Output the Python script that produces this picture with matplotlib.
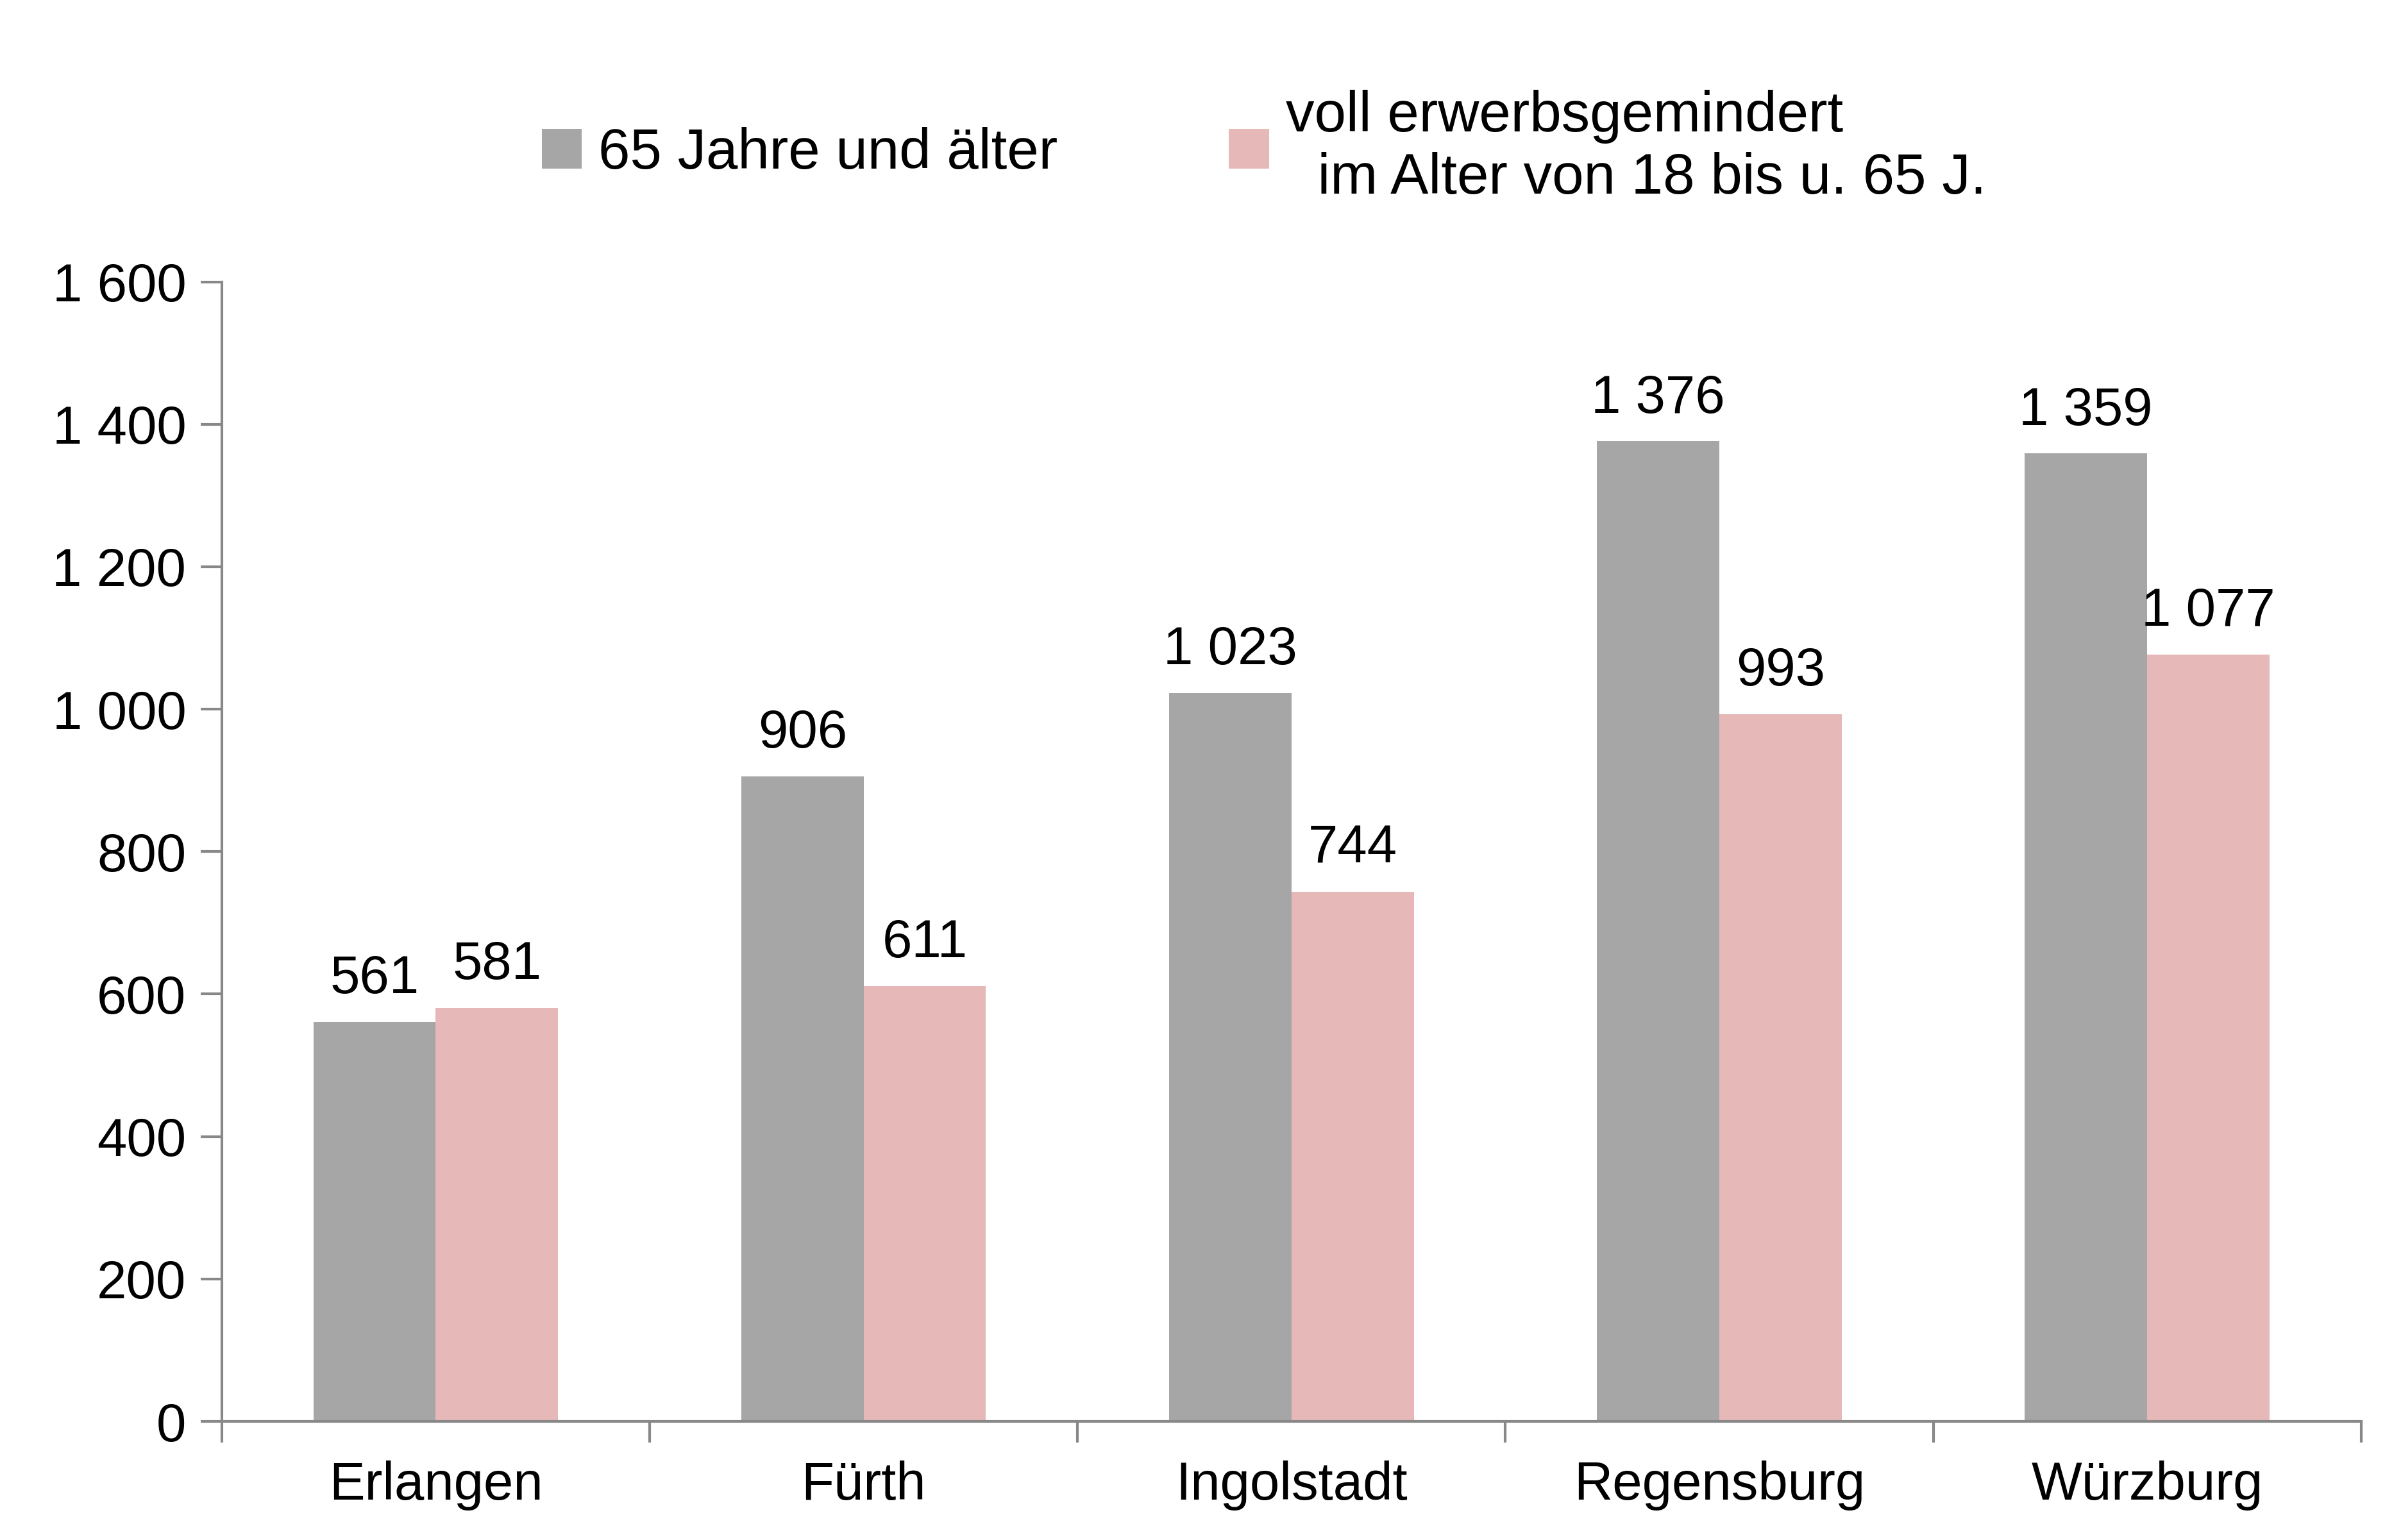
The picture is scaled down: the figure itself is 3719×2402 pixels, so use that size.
import matplotlib.pyplot as plt
import numpy as np

plt.rcParams['font.family'] = ['Liberation Sans', 'DejaVu Sans']

cities = ['Erlangen', 'Fürth', 'Ingolstadt', 'Regensburg', 'Würzburg']
alt65 = [561, 906, 1023, 1376, 1359]
erwerb = [581, 611, 744, 993, 1077]
yticks = [0, 200, 400, 600, 800, 1000, 1200, 1400, 1600]

def fmt(v):
    return f'{v:,}'.replace(',', ' ')

fig = plt.figure(figsize=(18.595, 12.01), dpi=200)
ax = fig.add_axes([0.093, 0.077, 0.897, 0.74])

x = np.arange(len(cities))
w = 0.286
b1 = ax.bar(x - w/2, alt65, w, color='#A6A6A6', label='65 Jahre und älter')
b2 = ax.bar(x + w/2, erwerb, w, color='#E6B9B8',
            label='voll erwerbsgemindert\n  im Alter von 18 bis u. 65 J.')

for bars, vals in [(b1, alt65), (b2, erwerb)]:
    for r, v in zip(bars, vals):
        ax.text(r.get_x() + r.get_width()/2, v + 25, fmt(v),
                ha='center', va='bottom', fontsize=30)

ax.set_xlim(-0.5, len(cities) - 0.5)
ax.set_ylim(0, 1600)
ax.set_yticks(yticks)
ax.set_yticklabels([fmt(v) for v in yticks], fontsize=30)
ax.set_xticks(x)
ax.set_xticklabels(cities, fontsize=30)
ax.tick_params(axis='x', length=0, pad=22)
ax.tick_params(axis='y', length=12, width=1.5, color='#888888', pad=8)
ax.set_xticks(np.arange(-0.5, len(cities)), minor=True)
ax.tick_params(axis='x', which='minor', length=12, width=1.5, color='#888888')
for s in ['top', 'right']:
    ax.spines[s].set_visible(False)
for s in ['left', 'bottom']:
    ax.spines[s].set_color('#888888')
    ax.spines[s].set_linewidth(1.5)

fig.legend(loc='upper center', bbox_to_anchor=(0.53, 0.975), ncol=2,
           frameon=False, fontsize=32, handlelength=0.7, handleheight=0.7,
           columnspacing=3, handletextpad=0.3)

fig.savefig('out.png', dpi=200)
